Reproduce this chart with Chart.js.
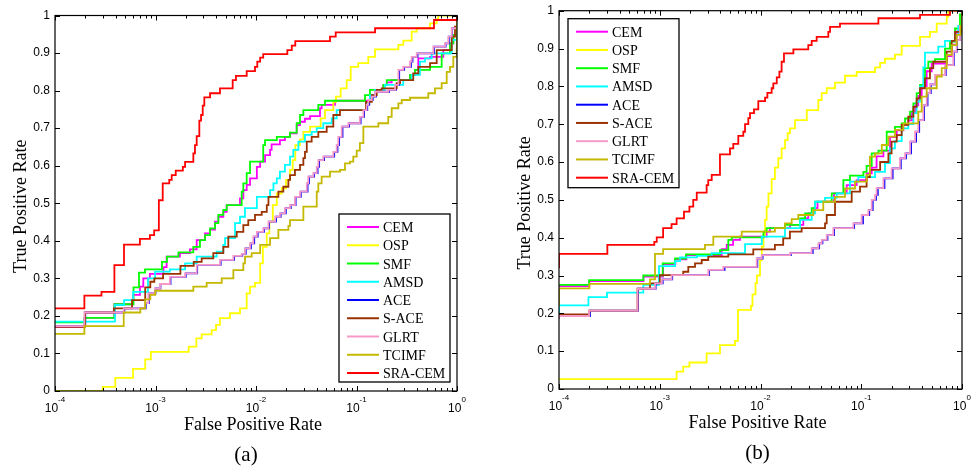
<!DOCTYPE html>
<html><head><meta charset="utf-8">
<script src="https://cdn.jsdelivr.net/npm/chart.js@4.4.1/dist/chart.umd.min.js"></script>
<style>
html,body{margin:0;padding:0;background:#fff;}
#wrap{position:relative;width:972px;height:468px;overflow:hidden;background:#fff;}
canvas{position:absolute;top:0;}
#ca{left:0;} #cb{left:486px;}
</style></head><body>
<div id="wrap"><canvas id="ca" width="486" height="468"></canvas><canvas id="cb" width="486" height="468"></canvas></div>
<script>
// ---------- labels, ticks ----------
const seriesNames = ['CEM','OSP','SMF','AMSD','ACE','S-ACE','GLRT','TCIMF','SRA-CEM'];
const seriesColors = ['#ff00ff','#ffff00','#00ff00','#00ffff','#0000ff','#993300','#f799c8','#c4b800','#ff0000'];
const yTickValues = [0,0.1,0.2,0.3,0.4,0.5,0.6,0.7,0.8,0.9,1];
const yTickLabels = ['0','0.1','0.2','0.3','0.4','0.5','0.6','0.7','0.8','0.9','1'];
const xTickValues = [1e-4,1e-3,1e-2,1e-1,1];
const xTickExponents = ['-4','-3','-2','-1','0'];
const xMinorDecades = [1e-4,1e-3,1e-2,1e-1];
const xMinorMultipliers = [2,3,4,5,6,7,8,9];
const xTitle = 'False Positive Rate';
const yTitle = 'True Positive Rate';
const panelLabels = ['(a)','(b)'];

// ---------- panel (a) data: [FPR, TPR] ----------
const aCEM = [[1e-4,0.171],[1.96e-4,0.195],[3.9e-4,0.231],[6.0e-4,0.256],[7.0e-4,0.278],[7.56e-4,0.30],[8.8e-4,0.312],[1.2e-3,0.33],[1.29e-3,0.358],[1.75e-3,0.367],[2.2e-3,0.377],[2.57e-3,0.402],[3.11e-3,0.42],[3.49e-3,0.43],[3.91e-3,0.451],[4.22e-3,0.464],[4.73e-3,0.477],[5.11e-3,0.495],[6.93e-3,0.513],[7.48e-3,0.535],[8.08e-3,0.549],[8.72e-3,0.566],[1.02e-2,0.597],[1.10e-2,0.611],[1.23e-2,0.628],[1.38e-2,0.642],[1.43e-2,0.657],[1.73e-2,0.668],[1.94e-2,0.677],[2.18e-2,0.686],[2.54e-2,0.708],[2.74e-2,0.717],[3.07e-2,0.725],[3.45e-2,0.732],[4.33e-2,0.753],[4.5e-2,0.762],[6.11e-2,0.773],[0.136,0.788],[0.153,0.802],[0.185,0.815],[0.20,0.822],[0.224,0.828],[0.341,0.842],[0.382,0.855],[0.412,0.886],[0.539,0.89],[0.731,0.908],[0.852,0.926],[0.919,0.948],[1,1]];
const aOSP = [[1e-4,0],[2.98e-4,0.011],[3.98e-4,0.035],[5.97e-4,0.059],[7.9e-4,0.084],[9.0e-4,0.104],[2.14e-3,0.118],[2.55e-3,0.14],[2.88e-3,0.151],[3.62e-3,0.162],[4.0e-3,0.176],[4.38e-3,0.194],[5.51e-3,0.207],[6.93e-3,0.22],[8.08e-3,0.26],[8.72e-3,0.278],[9.77e-3,0.288],[1.10e-2,0.34],[1.17e-2,0.384],[1.28e-2,0.42],[1.36e-2,0.451],[1.47e-2,0.495],[1.61e-2,0.526],[1.80e-2,0.54],[1.99e-2,0.562],[2.18e-2,0.589],[2.32e-2,0.615],[2.46e-2,0.655],[2.74e-2,0.67],[2.96e-2,0.69],[3.45e-2,0.704],[4.40e-2,0.726],[4.86e-2,0.748],[5.88e-2,0.77],[6.25e-2,0.784],[6.96e-2,0.806],[7.99e-2,0.828],[8.76e-2,0.863],[0.104,0.873],[0.131,0.89],[0.153,0.91],[0.261,0.922],[0.292,0.933],[0.354,0.957],[0.397,0.966],[0.539,0.979],[0.628,0.99],[0.651,1],[1,1]];
const aSMF = [[1e-4,0.183],[1.96e-4,0.195],[3.9e-4,0.231],[6.04e-4,0.276],[6.85e-4,0.315],[7.86e-4,0.324],[1.16e-3,0.344],[1.30e-3,0.358],[1.69e-3,0.369],[2.38e-3,0.384],[2.77e-3,0.402],[3.11e-3,0.415],[3.49e-3,0.433],[3.91e-3,0.447],[4.22e-3,0.469],[4.73e-3,0.482],[5.11e-3,0.495],[7.21e-3,0.531],[7.48e-3,0.553],[8.08e-3,0.58],[8.72e-3,0.611],[1.18e-2,0.655],[1.23e-2,0.668],[1.61e-2,0.677],[2.18e-2,0.688],[2.54e-2,0.713],[2.74e-2,0.735],[2.96e-2,0.748],[4.17e-2,0.762],[4.86e-2,0.773],[0.1215,0.788],[0.136,0.802],[0.185,0.815],[0.20,0.828],[0.341,0.842],[0.382,0.855],[0.539,0.863],[0.704,0.899],[0.852,0.926],[0.919,0.948],[1,1]];
const aAMSD = [[1e-4,0.185],[3.95e-4,0.229],[4.86e-4,0.242],[6.0e-4,0.264],[8.42e-4,0.30],[9.9e-4,0.318],[1.39e-3,0.324],[1.97e-3,0.34],[2.57e-3,0.358],[4.06e-3,0.371],[4.73e-3,0.389],[4.92e-3,0.407],[6.18e-3,0.447],[6.93e-3,0.464],[7.77e-3,0.487],[1.02e-2,0.517],[1.38e-2,0.535],[1.49e-2,0.553],[1.61e-2,0.566],[1.73e-2,0.584],[1.94e-2,0.602],[2.18e-2,0.624],[2.35e-2,0.642],[2.64e-2,0.664],[3.07e-2,0.682],[3.58e-2,0.69],[4.02e-2,0.70],[4.67e-2,0.713],[5.67e-2,0.726],[6.35e-2,0.748],[0.126,0.77],[0.136,0.788],[0.153,0.802],[0.192,0.815],[0.292,0.828],[0.354,0.842],[0.428,0.877],[0.48,0.886],[0.56,0.899],[0.886,0.935],[1,1]];
const aACE = [[1e-4,0.173],[2.0e-4,0.209],[4.9e-4,0.22],[8.0e-4,0.234],[8.6e-4,0.26],[1.0e-3,0.273],[1.12e-3,0.285],[1.41e-3,0.304],[2.0e-3,0.313],[2.6e-3,0.336],[4.45e-3,0.349],[6.05e-3,0.36],[7.3e-3,0.365],[7.9e-3,0.38],[8.9e-3,0.393],[9.6e-3,0.411],[1.04e-2,0.424],[1.2e-2,0.433],[1.35e-2,0.451],[1.58e-2,0.464],[1.76e-2,0.473],[1.98e-2,0.487],[2.22e-2,0.495],[2.48e-2,0.517],[2.79e-2,0.531],[3.26e-2,0.553],[3.37e-2,0.571],[3.79e-2,0.58],[4.1e-2,0.597],[4.25e-2,0.615],[4.76e-2,0.624],[6.0e-2,0.637],[6.47e-2,0.655],[6.72e-2,0.677],[7.26e-2,0.704],[8.45e-2,0.713],[0.11,0.73],[0.119,0.748],[0.128,0.762],[0.134,0.775],[0.145,0.784],[0.156,0.797],[0.211,0.802],[0.247,0.815],[0.266,0.855],[0.298,0.863],[0.348,0.877],[0.361,0.89],[0.405,0.899],[0.59,0.917],[0.77,0.926],[0.83,0.944],[0.89,0.966],[1,1]];
const aSACE = [[1e-4,0.171],[1.99e-4,0.209],[3.86e-4,0.22],[5.84e-4,0.242],[7.9e-4,0.276],[8.88e-4,0.291],[9.73e-4,0.30],[1.19e-3,0.312],[1.77e-3,0.333],[2.4e-3,0.344],[2.88e-3,0.353],[3.76e-3,0.367],[4.73e-3,0.384],[5.3e-3,0.411],[6.43e-3,0.424],[7.48e-3,0.442],[8.38e-3,0.455],[9.77e-3,0.469],[1.14e-2,0.477],[1.28e-2,0.495],[1.33e-2,0.517],[1.67e-2,0.531],[1.87e-2,0.544],[2.1e-2,0.562],[2.18e-2,0.575],[2.44e-2,0.589],[2.74e-2,0.602],[2.96e-2,0.62],[3.07e-2,0.637],[3.2e-2,0.664],[3.58e-2,0.677],[4.17e-2,0.69],[5.05e-2,0.704],[5.88e-2,0.735],[6.85e-2,0.748],[0.124,0.77],[0.142,0.788],[0.159,0.802],[0.178,0.806],[0.251,0.82],[0.271,0.828],[0.367,0.846],[0.412,0.863],[0.539,0.873],[0.628,0.908],[0.886,0.944],[0.955,0.97],[1,1]];
const aGLRT = [[1e-4,0.173],[1.96e-4,0.209],[4.83e-4,0.22],[7.86e-4,0.234],[8.48e-4,0.26],[9.9e-4,0.273],[1.11e-3,0.285],[1.39e-3,0.304],[1.97e-3,0.313],[2.57e-3,0.336],[4.38e-3,0.349],[5.95e-3,0.36],[7.21e-3,0.365],[7.77e-3,0.38],[8.72e-3,0.393],[9.4e-3,0.411],[1.02e-2,0.424],[1.18e-2,0.433],[1.33e-2,0.451],[1.55e-2,0.464],[1.73e-2,0.473],[1.94e-2,0.487],[2.18e-2,0.495],[2.44e-2,0.517],[2.74e-2,0.531],[3.2e-2,0.553],[3.31e-2,0.571],[3.72e-2,0.58],[4.02e-2,0.597],[4.17e-2,0.615],[4.67e-2,0.624],[5.88e-2,0.637],[6.35e-2,0.655],[6.59e-2,0.677],[7.12e-2,0.704],[8.29e-2,0.713],[0.108,0.73],[0.117,0.748],[0.126,0.762],[0.131,0.775],[0.142,0.784],[0.153,0.797],[0.207,0.802],[0.242,0.815],[0.261,0.855],[0.292,0.863],[0.341,0.877],[0.354,0.89],[0.397,0.899],[0.581,0.917],[0.76,0.926],[0.819,0.944],[0.886,0.966],[1,1]];
const aTCIMF = [[1e-4,0.152],[1.96e-4,0.173],[4.83e-4,0.209],[7.06e-4,0.22],[7.9e-4,0.244],[8.88e-4,0.256],[9.95e-4,0.267],[2.38e-3,0.278],[3.23e-3,0.288],[4.56e-3,0.30],[5.95e-3,0.322],[7.48e-3,0.34],[7.77e-3,0.358],[9.06e-3,0.367],[1.10e-2,0.389],[1.38e-2,0.407],[1.67e-2,0.429],[2.1e-2,0.44],[2.18e-2,0.455],[2.96e-2,0.491],[4.02e-2,0.531],[4.17e-2,0.553],[4.5e-2,0.571],[5.45e-2,0.584],[6.85e-2,0.589],[7.68e-2,0.606],[8.62e-2,0.611],[9.29e-2,0.624],[0.1005,0.64],[0.108,0.66],[0.117,0.704],[0.165,0.713],[0.207,0.73],[0.224,0.753],[0.261,0.766],[0.282,0.775],[0.341,0.781],[0.518,0.793],[0.604,0.806],[0.704,0.82],[0.79,0.85],[0.852,0.863],[0.919,0.89],[0.993,0.91],[1,1]];
const aSRACEM = [[1e-4,0.22],[1.96e-4,0.254],[2.9e-4,0.264],[3.9e-4,0.335],[4.86e-4,0.39],[7.0e-4,0.405],[8.8e-4,0.415],[9.7e-4,0.428],[1.08e-3,0.508],[1.18e-3,0.553],[1.37e-3,0.562],[1.45e-3,0.575],[1.59e-3,0.587],[1.87e-3,0.597],[1.97e-3,0.61],[2.38e-3,0.633],[2.47e-3,0.655],[2.57e-3,0.679],[2.73e-3,0.72],[2.84e-3,0.735],[2.95e-3,0.76],[3.06e-3,0.782],[3.49e-3,0.793],[4.38e-3,0.806],[5.86e-3,0.828],[6.32e-3,0.839],[8.08e-3,0.852],[9.77e-3,0.863],[1.03e-2,0.877],[1.10e-2,0.888],[1.18e-2,0.897],[2.05e-2,0.908],[2.27e-2,0.92],[2.46e-2,0.932],[5.45e-2,0.944],[6.21e-2,0.955],[0.153,0.966],[0.59,0.988],[1,1]];

// ---------- panel (b) data: [FPR, TPR] ----------
const bCEM = [[1e-4,0.272],[2.0e-4,0.285],[6.9e-4,0.297],[1.08e-3,0.33],[1.43e-3,0.343],[1.84e-3,0.354],[4.12e-3,0.37],[4.62e-3,0.381],[5.34e-3,0.394],[6.26e-3,0.403],[1.15e-2,0.416],[1.24e-2,0.425],[1.96e-2,0.434],[2.66e-2,0.451],[2.98e-2,0.464],[3.4e-2,0.478],[3.68e-2,0.495],[5.37e-2,0.517],[7.17e-2,0.539],[9.01e-2,0.552],[0.113,0.57],[0.127,0.585],[0.142,0.615],[0.166,0.63],[0.193,0.666],[0.225,0.684],[0.262,0.698],[0.293,0.71],[0.319,0.73],[0.342,0.75],[0.368,0.775],[0.398,0.80],[0.446,0.84],[0.50,0.86],[0.705,0.88],[0.79,0.91],[0.886,0.945],[1,1]];
const bOSP = [[1e-4,0.026],[1.47e-3,0.046],[1.71e-3,0.059],[1.97e-3,0.07],[2.92e-3,0.094],[3.96e-3,0.116],[5.59e-3,0.127],[5.98e-3,0.209],[8.05e-3,0.22],[8.33e-3,0.25],[8.92e-3,0.28],[9.23e-3,0.30],[9.89e-3,0.34],[1.03e-2,0.376],[1.07e-2,0.407],[1.11e-2,0.447],[1.15e-2,0.482],[1.2e-2,0.517],[1.29e-2,0.555],[1.39e-2,0.585],[1.5e-2,0.61],[1.62e-2,0.636],[1.75e-2,0.658],[1.86e-2,0.676],[1.96e-2,0.689],[2.2e-2,0.711],[2.88e-2,0.737],[3.75e-2,0.764],[4.05e-2,0.782],[4.54e-2,0.795],[5.49e-2,0.81],[6.9e-2,0.828],[9.01e-2,0.838],[0.137,0.85],[0.154,0.862],[0.172,0.873],[0.216,0.884],[0.252,0.907],[0.383,0.931],[0.481,0.944],[0.561,0.966],[0.705,0.984],[0.731,1],[1,1]];
const bSMF = [[1e-4,0.275],[1.99e-4,0.288],[6.87e-4,0.30],[1.07e-3,0.332],[1.42e-3,0.345],[1.82e-3,0.356],[3.96e-3,0.367],[4.79e-3,0.394],[5.18e-3,0.401],[1.07e-2,0.416],[1.15e-2,0.425],[1.75e-2,0.434],[2.47e-2,0.451],[2.77e-2,0.464],[3.22e-2,0.478],[3.48e-2,0.495],[5.09e-2,0.517],[6.64e-2,0.552],[7.73e-2,0.564],[0.105,0.574],[0.113,0.59],[0.127,0.623],[0.148,0.63],[0.179,0.68],[0.216,0.693],[0.252,0.702],[0.272,0.715],[0.305,0.733],[0.329,0.755],[0.355,0.782],[0.383,0.804],[0.429,0.848],[0.463,0.865],[0.54,0.872],[0.678,0.90],[0.76,0.918],[0.852,0.953],[0.955,0.99],[1,1]];
const bAMSD = [[1e-4,0.20],[1e-4,0.221],[1.96e-4,0.243],[3.0e-4,0.255],[6.87e-4,0.275],[9.83e-4,0.325],[1.42e-3,0.338],[1.59e-3,0.348],[2.34e-3,0.352],[3.28e-3,0.359],[7.02e-3,0.383],[1.03e-2,0.403],[1.75e-2,0.425],[2.47e-2,0.447],[3.22e-2,0.464],[3.48e-2,0.495],[4.37e-2,0.505],[5.71e-2,0.517],[7.73e-2,0.548],[9.35e-2,0.56],[0.137,0.574],[0.172,0.597],[0.193,0.636],[0.216,0.655],[0.252,0.689],[0.293,0.70],[0.329,0.729],[0.355,0.76],[0.383,0.80],[0.413,0.85],[0.429,0.889],[0.582,0.905],[0.678,0.92],[0.852,0.936],[0.919,0.96],[1,1]];
const bACE = [[1e-4,0.185],[1e-4,0.193],[2.03e-4,0.207],[6.1e-4,0.265],[9.1e-4,0.279],[1.07e-3,0.29],[1.33e-3,0.301],[3.08e-3,0.315],[4.4e-3,0.323],[9.3e-3,0.345],[1.05e-2,0.354],[2.0e-2,0.359],[3.3e-2,0.372],[3.82e-2,0.385],[4.12e-2,0.394],[4.62e-2,0.407],[5.38e-2,0.425],[8.5e-2,0.438],[0.104,0.46],[0.12,0.473],[0.13,0.50],[0.14,0.513],[0.146,0.531],[0.17,0.557],[0.205,0.583],[0.247,0.61],[0.278,0.623],[0.312,0.654],[0.35,0.68],[0.376,0.711],[0.42,0.75],[0.455,0.782],[0.49,0.805],[0.55,0.83],[0.69,0.856],[0.83,0.892],[0.895,0.922],[0.96,0.96],[1,1]];
const bSACE = [[1e-4,0.19],[1e-4,0.197],[2.0e-4,0.207],[6.02e-4,0.265],[8.0e-4,0.279],[1.0e-3,0.301],[1.71e-3,0.31],[1.92e-3,0.323],[2.24e-3,0.332],[2.61e-3,0.341],[3.03e-3,0.35],[4.79e-3,0.356],[8.48e-3,0.369],[1.39e-2,0.381],[1.68e-2,0.398],[1.96e-2,0.416],[2.56e-2,0.425],[4.37e-2,0.438],[4.54e-2,0.46],[5.49e-2,0.495],[8.04e-2,0.522],[9.72e-2,0.535],[0.113,0.56],[0.122,0.579],[0.154,0.60],[0.186,0.623],[0.20,0.654],[0.225,0.671],[0.252,0.698],[0.293,0.72],[0.329,0.746],[0.355,0.768],[0.383,0.795],[0.429,0.821],[0.481,0.848],[0.519,0.865],[0.705,0.892],[0.79,0.92],[0.852,0.944],[1,1]];
const bGLRT = [[1e-4,0.185],[1e-4,0.193],[1.99e-4,0.207],[6.02e-4,0.265],[8.97e-4,0.279],[1.05e-3,0.29],[1.31e-3,0.301],[3.03e-3,0.315],[4.27e-3,0.323],[9.17e-3,0.345],[1.03e-2,0.354],[1.96e-2,0.359],[3.22e-2,0.372],[3.75e-2,0.385],[4.05e-2,0.394],[4.54e-2,0.407],[5.28e-2,0.425],[8.34e-2,0.438],[0.101,0.46],[0.1175,0.473],[0.127,0.50],[0.137,0.513],[0.142,0.531],[0.166,0.557],[0.20,0.583],[0.242,0.61],[0.272,0.623],[0.305,0.654],[0.342,0.68],[0.368,0.711],[0.413,0.75],[0.446,0.782],[0.481,0.805],[0.54,0.83],[0.678,0.856],[0.82,0.892],[0.886,0.922],[0.955,0.96],[1,1]];
const bTCIMF = [[1e-4,0.22],[1e-4,0.266],[2.0e-4,0.278],[8.0e-4,0.29],[8.97e-4,0.357],[1.08e-3,0.37],[2.81e-3,0.381],[3.4e-3,0.403],[6.51e-3,0.416],[1.39e-2,0.425],[1.75e-2,0.438],[2.04e-2,0.449],[2.37e-2,0.46],[3.34e-2,0.473],[4.2e-2,0.495],[5.49e-2,0.508],[6.9e-2,0.53],[8.67e-2,0.548],[0.113,0.566],[0.122,0.614],[0.137,0.623],[0.16,0.645],[0.186,0.667],[0.216,0.685],[0.262,0.702],[0.368,0.733],[0.398,0.773],[0.446,0.795],[0.561,0.826],[0.629,0.848],[0.705,0.883],[0.79,0.909],[0.886,0.936],[0.971,0.96],[1,1]];
const bSRACEM = [[1e-4,0.32],[1e-4,0.357],[3.02e-4,0.381],[8.83e-4,0.389],[9.33e-4,0.401],[1.08e-3,0.425],[1.31e-3,0.436],[1.47e-3,0.451],[1.74e-3,0.469],[1.97e-3,0.482],[2.15e-3,0.50],[2.33e-3,0.519],[2.92e-3,0.539],[3.03e-3,0.552],[3.28e-3,0.566],[3.96e-3,0.62],[4.98e-3,0.636],[5.37e-3,0.648],[6.02e-3,0.669],[6.75e-3,0.68],[7.02e-3,0.70],[7.57e-3,0.716],[7.87e-3,0.729],[8.62e-3,0.739],[9.51e-3,0.761],[1.11e-2,0.77],[1.17e-2,0.783],[1.29e-2,0.795],[1.34e-2,0.808],[1.45e-2,0.824],[1.54e-2,0.839],[1.62e-2,0.865],[1.71e-2,0.887],[2.12e-2,0.898],[2.98e-2,0.909],[3.22e-2,0.92],[3.61e-2,0.931],[4.71e-2,0.944],[4.9e-2,0.957],[6.15e-2,0.966],[0.148,0.98],[0.383,0.989],[0.76,1],[1,1]];

const panelA = [aCEM,aOSP,aSMF,aAMSD,aACE,aSACE,aGLRT,aTCIMF,aSRACEM];
const panelB = [bCEM,bOSP,bSMF,bAMSD,bACE,bSACE,bGLRT,bTCIMF,bSRACEM];

const SANS = '"Liberation Sans", Arial, sans-serif';
const SERIF = '"Liberation Serif", "Times New Roman", serif';

function axesPlugin(cfg) {
  return {
    id: 'matlabAxes',
    afterDatasetsDraw(chart) {
      const ctx = chart.ctx, ca = chart.chartArea;
      const xs = chart.scales.x, ys = chart.scales.y;
      ctx.save();
      ctx.strokeStyle = '#000';
      ctx.fillStyle = '#000';
      ctx.lineWidth = 1;
      ctx.beginPath();
      // minor x ticks (top & bottom)
      for (const d of xMinorDecades) {
        for (const m of xMinorMultipliers) {
          const px = Math.round(xs.getPixelForValue(m * d)) + 0.5;
          ctx.moveTo(px, ca.bottom); ctx.lineTo(px, ca.bottom - 3);
          ctx.moveTo(px, ca.top); ctx.lineTo(px, ca.top + 3);
        }
      }
      // major x ticks
      for (const v of xTickValues) {
        const px = Math.round(xs.getPixelForValue(v)) + 0.5;
        ctx.moveTo(px, ca.bottom); ctx.lineTo(px, ca.bottom - 5);
        ctx.moveTo(px, ca.top); ctx.lineTo(px, ca.top + 5);
      }
      // y ticks (left & right)
      for (const v of yTickValues) {
        const py = Math.round(ys.getPixelForValue(v)) + 0.5;
        ctx.moveTo(ca.left, py); ctx.lineTo(ca.left + 5, py);
        ctx.moveTo(ca.right, py); ctx.lineTo(ca.right - 5, py);
      }
      ctx.stroke();
      // box
      ctx.lineWidth = 1.2;
      ctx.strokeRect(ca.left, ca.top, ca.right - ca.left, ca.bottom - ca.top);

      // y tick labels
      ctx.font = '12px ' + SANS;
      ctx.textAlign = 'right';
      ctx.textBaseline = 'middle';
      yTickValues.forEach((v, i) => ctx.fillText(yTickLabels[i], ca.left - 5, ys.getPixelForValue(v)));

      // x tick labels 10^e
      ctx.textAlign = 'left';
      ctx.textBaseline = 'alphabetic';
      xTickValues.forEach((v, i) => {
        const px = xs.getPixelForValue(v);
        ctx.font = '12px ' + SANS;
        const mw = ctx.measureText('10').width;
        ctx.font = '8px ' + SANS;
        const sw = ctx.measureText(xTickExponents[i]).width;
        const x0 = px - (mw + sw) / 2;
        ctx.font = '12px ' + SANS;
        ctx.fillText('10', x0, ca.bottom + 21);
        ctx.font = '8px ' + SANS;
        ctx.fillText(xTickExponents[i], x0 + mw, ca.bottom + 11);
      });

      // axis titles
      ctx.font = '18px ' + SERIF;
      ctx.textAlign = 'center';
      ctx.fillText(xTitle, (ca.left + ca.right) / 2 - 3, ca.bottom + 39);
      ctx.save();
      ctx.translate(ca.left - 29.5, (ca.top + ca.bottom) / 2 + 3);
      ctx.rotate(-Math.PI / 2);
      ctx.fillText(yTitle, 0, 0);
      ctx.restore();

      // panel label
      ctx.font = '21px ' + SERIF;
      ctx.fillText(cfg.label, (ca.left + ca.right) / 2 + cfg.labelDx, ca.bottom + 69.5);

      // legend
      const w = 111, h = cfg.legendH;
      const lx = cfg.legendCorner === 'br' ? ca.right - 7 - w : ca.left + 9;
      const ly = cfg.legendCorner === 'br' ? ca.bottom - 9 - h : ca.top + 8;
      ctx.fillStyle = '#fff';
      ctx.fillRect(lx, ly, w, h);
      ctx.strokeStyle = '#000';
      ctx.lineWidth = 1.3;
      ctx.strokeRect(lx, ly, w, h);
      ctx.font = '14px ' + SERIF;
      ctx.textAlign = 'left';
      seriesNames.forEach((n, i) => {
        const yy = ly + 13 + i * 18.25;
        ctx.strokeStyle = seriesColors[i];
        ctx.lineWidth = 2;
        ctx.beginPath();
        ctx.moveTo(lx + 8, yy); ctx.lineTo(lx + 40, yy);
        ctx.stroke();
        ctx.fillStyle = '#000';
        ctx.fillText(n, lx + 44, yy + 5);
      });
      ctx.restore();
    }
  };
}

function makeChart(id, series, pad, cfg) {
  const datasets = series.map((arr, i) => ({
    label: seriesNames[i],
    data: arr.map(p => ({x: p[0], y: p[1]})),
    borderColor: seriesColors[i],
    backgroundColor: seriesColors[i],
    borderWidth: 1.8,
    pointRadius: 0,
    stepped: 'before',
    fill: false,
    order: seriesNames.length - 1 - i
  }));
  return new Chart(document.getElementById(id), {
    type: 'line',
    data: { datasets },
    options: {
      responsive: false,
      animation: false,
      devicePixelRatio: 1,
      layout: { padding: pad },
      plugins: { legend: { display: false }, tooltip: { enabled: false } },
      scales: {
        x: { type: 'logarithmic', min: 1e-4, max: 1, display: false },
        y: { type: 'linear', min: 0, max: 1, display: false }
      }
    },
    plugins: [axesPlugin(cfg)]
  });
}

makeChart('ca', panelA, {left: 55, top: 15.5, right: 29, bottom: 77},
  {label: panelLabels[0], labelDx: -10, legendCorner: 'br', legendH: 168});
makeChart('cb', panelB, {left: 73, top: 10.7, right: 10, bottom: 79},
  {label: panelLabels[1], labelDx: -3, legendCorner: 'tl', legendH: 169});
</script>
</body></html>
